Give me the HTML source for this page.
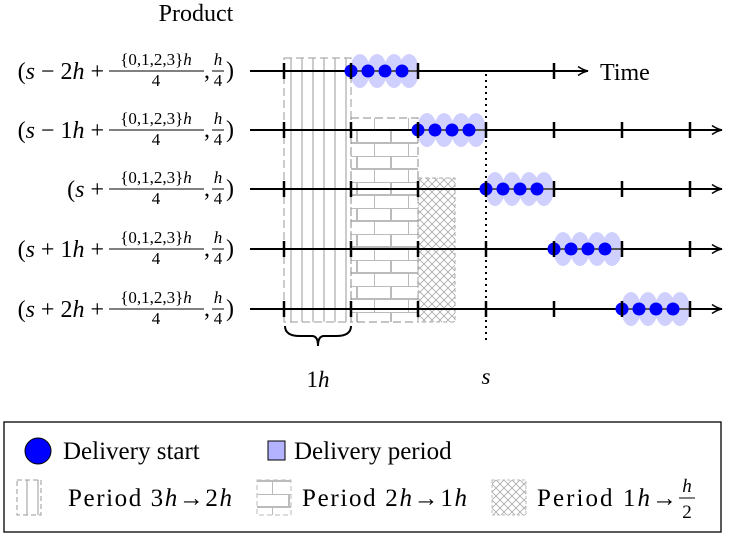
<!DOCTYPE html>
<html><head><style>body{margin:0;background:#fff}svg{display:block}</style></head><body>
<svg width="729" height="537" xmlns="http://www.w3.org/2000/svg" font-family="Liberation Serif, serif">
<defs>
<pattern id="vl" width="11" height="10" patternUnits="userSpaceOnUse"><line x1="5" y1="0" x2="5" y2="10" stroke="#999" stroke-width="1"/></pattern>
<pattern id="br" width="34" height="26" patternUnits="userSpaceOnUse"><g stroke="#bbb" stroke-width="2" fill="none"><line x1="0" y1="0" x2="34" y2="0"/><line x1="0" y1="13" x2="34" y2="13"/><line x1="17" y1="0" x2="17" y2="13"/><line x1="0" y1="13" x2="0" y2="26"/></g></pattern>
<pattern id="ch" width="8" height="8" patternUnits="userSpaceOnUse"><path d="M0 0L8 8M8 0L0 8" stroke="#aaa" stroke-width="0.8"/></pattern>
<marker id="ar" markerWidth="12" markerHeight="10" refX="11" refY="5" orient="auto" markerUnits="userSpaceOnUse"><path d="M1 0.5Q6 4 11 5Q6 6 1 9.5" fill="none" stroke="#000" stroke-width="1.5"/></marker>
<g id="d">
<g fill="#d0d0ff"><path d="M351 0Q360 -34 369 0Q360 34 351 0Z"/><ellipse cx="360" cy="0" rx="10" ry="17"/><ellipse cx="377" cy="0" rx="10" ry="17"/><ellipse cx="394" cy="0" rx="10" ry="17"/><ellipse cx="409" cy="0" rx="10" ry="17"/></g>
<line x1="351" y1="0" x2="418" y2="0" stroke="#555" stroke-width="2"/>
<g fill="#0000ff"><circle cx="351" cy="0" r="6.5"/><circle cx="368" cy="0" r="6.5"/><circle cx="385" cy="0" r="6.5"/><circle cx="402" cy="0" r="6.5"/></g>
</g>
<g id="fr">
<text x="156" y="-6" font-size="17" text-anchor="middle">{0,1,2,3}<tspan font-style="italic">h</tspan></text>
<line x1="109" y1="0" x2="204" y2="0" stroke="#000" stroke-width="1"/>
<text x="156" y="15" font-size="17" text-anchor="middle">4</text>
<text x="204" y="7" font-size="24">,</text>
<text x="218" y="-6" font-size="17" text-anchor="middle" font-style="italic">h</text>
<line x1="212" y1="0" x2="224" y2="0" stroke="#000" stroke-width="1"/>
<text x="218" y="15" font-size="17" text-anchor="middle">4</text>
<text x="226" y="7" font-size="24">)</text>
</g>
</defs>
<text x="196" y="21" font-size="24" text-anchor="middle">Product</text>
<rect x="284" y="58" width="67" height="264" fill="url(#vl)" stroke="#999" stroke-dasharray="8,4"/>
<rect x="351" y="118" width="67" height="204" fill="url(#br)" stroke="#888" stroke-dasharray="8,4"/>
<rect x="418" y="178" width="37" height="144" fill="url(#ch)" stroke="#aaa" stroke-dasharray="4,3"/>
<line x1="486" y1="74" x2="486" y2="340" stroke="#000" stroke-width="2" stroke-dasharray="2,4"/>
<g stroke="#000" stroke-width="2">
<line x1="250" y1="71" x2="588" y2="71" marker-end="url(#ar)"/>
<line x1="250" y1="130" x2="722" y2="130" marker-end="url(#ar)"/>
<line x1="250" y1="189" x2="722" y2="189" marker-end="url(#ar)"/>
<line x1="250" y1="249" x2="722" y2="249" marker-end="url(#ar)"/>
<line x1="250" y1="309" x2="722" y2="309" marker-end="url(#ar)"/>
</g>
<text x="600" y="80" font-size="24">Time</text>
<use href="#d" x="0" y="71"/>
<use href="#d" x="67" y="130"/>
<use href="#d" x="135" y="189"/>
<use href="#d" x="203" y="249"/>
<use href="#d" x="271" y="309"/>
<g stroke="#000" stroke-width="2.5">
<path d="M284 63v16M351 63v16M418 63v16M554 63v16"/>
<path d="M284 122v16M351 122v16M418 122v16M486 122v16M554 122v16M622 122v16M690 122v16"/>
<path d="M284 181v16M351 181v16M418 181v16M486 181v16M554 181v16M622 181v16M690 181v16"/>
<path d="M284 241v16M351 241v16M418 241v16M486 241v16M554 241v16M622 241v16M690 241v16"/>
<path d="M284 301v16M351 301v16M418 301v16M486 301v16M554 301v16M622 301v16M690 301v16"/>
</g>
<use href="#fr" y="71"/><use href="#fr" y="130"/><use href="#fr" y="189"/><use href="#fr" y="249"/><use href="#fr" y="309"/>
<g font-size="24">
<text x="104" y="79" text-anchor="end">(<tspan font-style="italic">s</tspan> − 2<tspan font-style="italic">h</tspan> +</text>
<text x="104" y="138" text-anchor="end">(<tspan font-style="italic">s</tspan> − 1<tspan font-style="italic">h</tspan> +</text>
<text x="104" y="197" text-anchor="end">(<tspan font-style="italic">s</tspan> +</text>
<text x="104" y="257" text-anchor="end">(<tspan font-style="italic">s</tspan> + 1<tspan font-style="italic">h</tspan> +</text>
<text x="104" y="317" text-anchor="end">(<tspan font-style="italic">s</tspan> + 2<tspan font-style="italic">h</tspan> +</text>
</g>
<path d="M285 326Q285 336 300 336L312 336Q318 336 318 346Q318 336 324 336L336 336Q351 336 351 326" fill="none" stroke="#000" stroke-width="2"/>
<text x="318" y="387" font-size="23" text-anchor="middle">1<tspan font-style="italic">h</tspan></text>
<text x="486" y="384" font-size="23" text-anchor="middle" font-style="italic">s</text>
<rect x="4" y="422" width="717" height="110" fill="#fff" stroke="#000" stroke-width="1.3"/>
<ellipse cx="38" cy="451" rx="13" ry="13" fill="#0000ff" stroke="#000"/>
<text x="63" y="459" font-size="25">Delivery start</text>
<rect x="268" y="441" width="17" height="19" fill="#b3b3ff" stroke="#000"/>
<text x="294" y="459" font-size="25">Delivery period</text>
<rect x="17" y="480" width="24" height="35" fill="url(#vl)" stroke="#999" stroke-dasharray="5,3"/>
<text x="68" y="506" font-size="25" textLength="164" lengthAdjust="spacing">Period 3<tspan font-style="italic">h</tspan>→2<tspan font-style="italic">h</tspan></text>
<rect x="257" y="480" width="34" height="35" fill="url(#br)" stroke="#bbb" stroke-dasharray="5,3"/>
<text x="302" y="506" font-size="25" textLength="165" lengthAdjust="spacing">Period 2<tspan font-style="italic">h</tspan>→1<tspan font-style="italic">h</tspan></text>
<rect x="492" y="480" width="34" height="35" fill="url(#ch)" stroke="#bbb" stroke-dasharray="3,2"/>
<text x="537" y="506" font-size="25" textLength="140" lengthAdjust="spacing">Period 1<tspan font-style="italic">h</tspan>→</text>
<text x="687" y="492" font-size="19" text-anchor="middle" font-style="italic">h</text>
<line x1="679" y1="498" x2="695" y2="498" stroke="#000"/>
<text x="687" y="518" font-size="19" text-anchor="middle">2</text>
</svg>
</body></html>
